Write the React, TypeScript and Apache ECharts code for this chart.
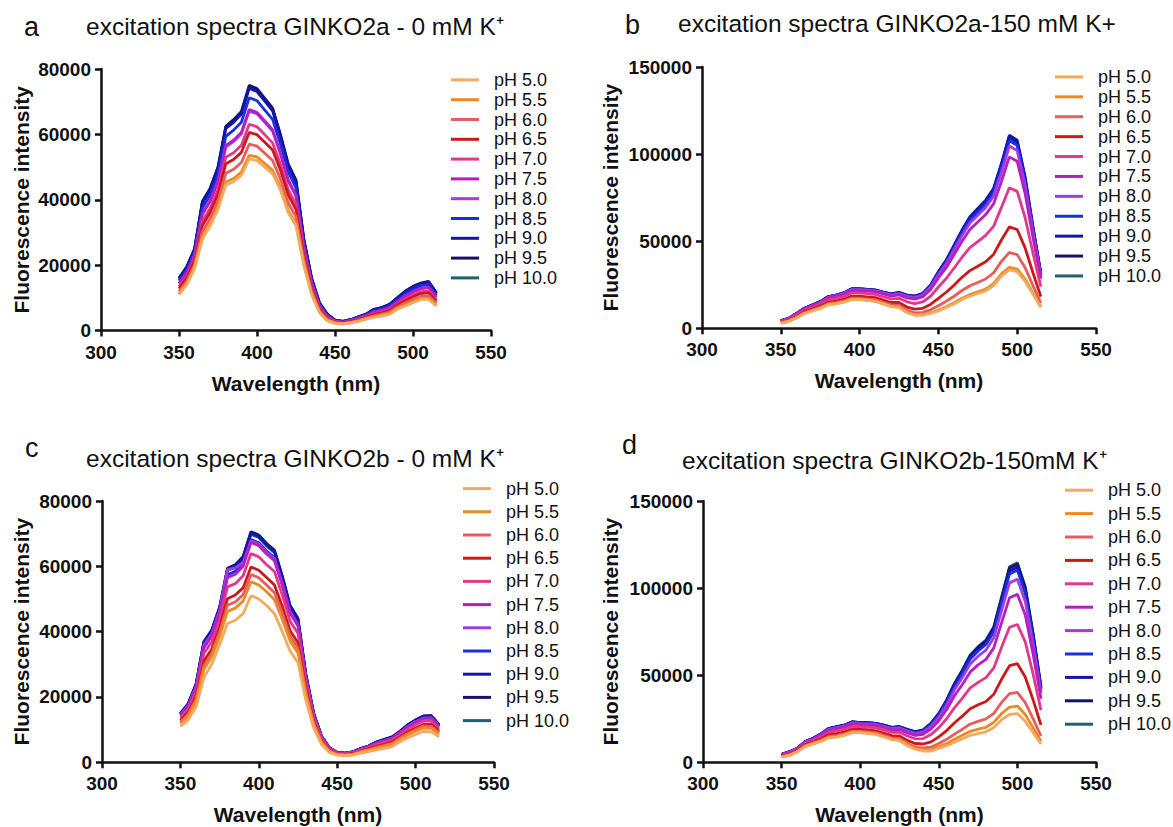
import React, { useEffect, useRef } from "react";
import * as echarts from "echarts";

// Wavelengths (nm) of the excitation scans
const WAVELENGTH_NM = [
  350, 355, 360, 365, 370, 375, 380, 385, 390, 395,
  400, 405, 410, 415, 420, 425, 430, 435, 440, 445,
  450, 455, 460, 465, 470, 475, 480, 485, 490, 495,
  500, 505, 510, 515,
];

const PH_LABELS = ["pH 5.0", "pH 5.5", "pH 6.0", "pH 6.5", "pH 7.0", "pH 7.5", "pH 8.0", "pH 8.5", "pH 9.0", "pH 9.5", "pH 10.0"];
const PH_COLORS = ["#F4AA5E", "#EC8A22", "#E45E5E", "#CE1818", "#E2388C", "#B41EC2", "#A03CE0", "#1A2EE0", "#1414AE", "#12126C", "#1F6070"];

// intensity values are read in thousands of counts
const UNIT = 1000;

// Panel a: GINKO2a, 0 mM K+
const A_PH50 = [11, 14, 19, 28, 32, 37, 44.5, 45.5, 47.5, 52.5, 52, 50, 48, 43, 36, 32, 20, 11, 5.5, 3, 2.2, 2, 2.3, 2.8, 3.5, 4, 4.5, 5, 6.5, 7.5, 8.5, 9.5, 9.5, 7.5];
const A_PH55 = [11.3, 14.3, 19.3, 28.6, 32.6, 37.7, 45.4, 46.5, 48.5, 53.6, 53.1, 51.1, 49, 43.9, 36.8, 32.7, 20.4, 11.3, 5.7, 3.1, 2.3, 2, 2.4, 2.9, 3.6, 4.1, 4.6, 5.2, 6.7, 7.7, 8.8, 9.8, 9.8, 7.7];
const A_PH60 = [12, 15.1, 20.2, 30.3, 34.3, 39.6, 48.1, 49.3, 51.4, 57, 56.4, 54.2, 52, 46.4, 39, 34.8, 21.6, 12, 6.1, 3.4, 2.4, 2.2, 2.5, 3.1, 3.8, 4.5, 5, 5.6, 7.2, 8.4, 9.5, 10.5, 10.6, 8.3];
const A_PH65 = [12.8, 16, 21.2, 32.1, 36.1, 41.7, 51, 52.3, 54.5, 60.6, 59.9, 57.6, 55.2, 49.1, 41.4, 37, 22.9, 12.8, 6.6, 3.7, 2.6, 2.3, 2.7, 3.3, 4, 4.9, 5.4, 6.1, 7.8, 9.1, 10.3, 11.3, 11.5, 8.9];
const A_PH70 = [13.4, 16.6, 21.8, 33.4, 37.4, 43.1, 53, 54.4, 56.7, 63.1, 62.3, 59.9, 57.4, 51, 43.1, 38.6, 23.8, 13.4, 6.9, 3.9, 2.7, 2.4, 2.8, 3.5, 4.2, 5.2, 5.7, 6.4, 8.1, 9.6, 10.9, 11.9, 12.1, 9.4];
const A_PH75 = [14.4, 17.7, 23, 35.7, 39.7, 45.7, 56.6, 58.2, 60.6, 67.6, 66.7, 64.1, 61.4, 54.4, 46.1, 41.4, 25.4, 14.4, 7.5, 4.3, 2.9, 2.5, 3, 3.7, 4.5, 5.7, 6.2, 7, 8.8, 10.5, 11.9, 12.9, 13.2, 10.2];
const A_PH80 = [14.3, 17.6, 22.9, 35.5, 39.5, 45.5, 56.2, 57.8, 60.2, 67.1, 66.3, 63.7, 61, 54.1, 45.8, 41.1, 25.2, 14.3, 7.4, 4.3, 2.9, 2.5, 3, 3.7, 4.5, 5.6, 6.1, 6.9, 8.7, 10.4, 11.8, 12.8, 13.1, 10.1];
const A_PH85 = [15.2, 18.6, 24, 37.5, 41.5, 47.8, 59.4, 61.3, 63.7, 71.2, 70.3, 67.4, 64.6, 57.1, 48.5, 43.6, 26.6, 15.2, 8, 4.7, 3, 2.7, 3.1, 4, 4.7, 6.1, 6.6, 7.5, 9.4, 11.2, 12.7, 13.7, 14.1, 10.8];
const A_PH90 = [15.8, 19.3, 24.8, 39, 43, 49.5, 61.8, 63.7, 66.2, 74.1, 73.1, 70.2, 67.2, 59.3, 50.4, 45.4, 27.7, 15.8, 8.4, 4.9, 3.2, 2.8, 3.3, 4.1, 4.9, 6.4, 6.9, 7.9, 9.9, 11.8, 13.3, 14.3, 14.8, 11.3];
const A_PH95 = [16, 19.5, 25, 39.5, 43.5, 50, 62.5, 64.5, 67, 75, 74, 71, 68, 60, 51, 46, 28, 16, 8.5, 5, 3.2, 2.8, 3.3, 4.2, 5, 6.5, 7, 8, 10, 12, 13.5, 14.5, 15, 11.5];
const A_PH100 = [15.9, 19.4, 24.9, 39.3, 43.3, 49.8, 62.2, 64.1, 66.6, 74.5, 73.6, 70.6, 67.6, 59.7, 50.7, 45.7, 27.8, 15.9, 8.4, 5, 3.2, 2.8, 3.3, 4.2, 5, 6.5, 7, 8, 10, 12, 13.4, 14.4, 14.9, 11.4];

// Panel b: GINKO2a, 150 mM K+
const B_PH50 = [3, 4, 6, 8.5, 10, 11.5, 13.5, 14, 15, 16.5, 16.5, 16, 15.5, 14, 12.5, 12, 9, 7.5, 7.5, 8.5, 10, 12, 14, 16.5, 18.5, 20, 21.5, 24.5, 30, 33.5, 32.5, 27, 19.5, 12];
const B_PH55 = [3, 4, 6.1, 8.6, 10.1, 11.6, 13.6, 14.1, 15.1, 16.6, 16.6, 16.1, 15.6, 14.1, 12.6, 12.2, 9.2, 7.7, 7.8, 8.8, 10.5, 12.5, 14.7, 17.3, 19.4, 21, 22.5, 25.6, 31.3, 35, 34, 28.2, 20.3, 12.4];
const B_PH60 = [3.2, 4.2, 6.3, 8.9, 10.4, 12, 14.1, 14.7, 15.7, 17.3, 17.3, 16.8, 16.3, 14.9, 13.4, 13.1, 10.3, 8.9, 9.1, 10.6, 12.9, 15.5, 18.4, 21.7, 24.4, 26.3, 28.3, 31.8, 38.4, 43.5, 42.3, 34.8, 24.5, 14.5];
const B_PH65 = [3.4, 4.5, 6.8, 9.5, 11.1, 12.7, 15, 15.6, 16.7, 18.5, 18.5, 18, 17.6, 16.2, 14.8, 14.8, 12.2, 11, 11.5, 13.7, 17.2, 20.7, 24.8, 29.3, 33.1, 35.6, 38.2, 42.4, 50.7, 58.2, 56.7, 46.2, 31.9, 18.2];
const B_PH70 = [3.9, 5, 7.6, 10.3, 12.1, 13.8, 16.4, 17.1, 18.3, 20.3, 20.3, 19.9, 19.5, 18.1, 16.9, 17.2, 15.2, 14.2, 15.1, 18.4, 23.7, 28.6, 34.6, 40.8, 46.3, 49.8, 53.3, 58.5, 69.4, 80.7, 78.6, 63.6, 43.2, 23.9];
const B_PH75 = [4.2, 5.4, 8.2, 11, 12.9, 14.7, 17.4, 18.3, 19.5, 21.7, 21.7, 21.4, 21, 19.7, 18.5, 19.2, 17.5, 16.7, 18, 22.2, 28.9, 34.8, 42.4, 50, 56.7, 61, 65.3, 71.4, 84.3, 98.4, 95.9, 77.4, 52.1, 28.4];
const B_PH80 = [4.3, 5.6, 8.4, 11.3, 13.1, 15, 17.8, 18.7, 20, 22.2, 22.2, 21.9, 21.5, 20.3, 19.1, 19.9, 18.3, 17.6, 19, 23.5, 30.7, 37, 45.1, 53.2, 60.4, 64.9, 69.4, 75.8, 89.4, 104.6, 102, 82.2, 55.2, 29.9];
const B_PH85 = [4.3, 5.6, 8.5, 11.4, 13.3, 15.1, 18, 18.9, 20.2, 22.5, 22.5, 22.1, 21.7, 20.5, 19.4, 20.3, 18.7, 18.1, 19.5, 24.1, 31.6, 38.1, 46.4, 54.8, 62.2, 66.8, 71.5, 78.1, 92, 107.7, 105, 84.6, 56.7, 30.7];
const B_PH90 = [4.4, 5.7, 8.6, 11.5, 13.4, 15.3, 18.2, 19.1, 20.4, 22.7, 22.7, 22.4, 22, 20.8, 19.7, 20.6, 19.1, 18.5, 20, 24.8, 32.5, 39.2, 47.8, 56.4, 64, 68.8, 73.6, 80.3, 94.6, 110.8, 108, 87, 58.3, 31.5];
const B_PH95 = [4.4, 5.7, 8.6, 11.5, 13.4, 15.3, 18.1, 19, 20.3, 22.6, 22.6, 22.3, 21.9, 20.7, 19.6, 20.5, 19, 18.4, 19.9, 24.6, 32.3, 38.9, 47.5, 56, 63.5, 68.3, 73.1, 79.7, 93.9, 110, 107.2, 86.4, 57.9, 31.3];
const B_PH100 = [4.4, 5.6, 8.5, 11.4, 13.3, 15.2, 18, 18.9, 20.2, 22.5, 22.5, 22.2, 21.8, 20.6, 19.5, 20.3, 18.8, 18.2, 19.6, 24.3, 31.8, 38.4, 46.8, 55.2, 62.6, 67.3, 72, 78.6, 92.7, 108.5, 105.7, 85.2, 57.1, 30.9];

// Panel c: GINKO2b, 0 mM K+
const C_PH50 = [11, 13, 17, 26, 30, 36, 42.5, 43.5, 45.5, 51, 50, 48, 45.5, 40, 34, 30.5, 19, 10.5, 5.5, 3, 2.2, 2, 2.2, 2.8, 3.3, 3.8, 4.3, 4.8, 6.3, 7.5, 8.5, 9.5, 9.3, 7.8];
const C_PH55 = [11.9, 14.1, 18.5, 28.4, 32.3, 38.5, 46.2, 47.2, 49.4, 55.3, 54.3, 52.2, 49.8, 43.7, 37.1, 33.5, 20.8, 11.5, 6.1, 3.3, 2.4, 2.2, 2.4, 3.1, 3.7, 4.3, 4.9, 5.5, 7, 8.4, 9.5, 10.5, 10.4, 8.6];
const C_PH60 = [12.3, 14.7, 19.3, 29.6, 33.5, 39.8, 48.1, 49.1, 51.3, 57.5, 56.5, 54.3, 51.9, 45.6, 38.6, 35, 21.6, 12, 6.3, 3.5, 2.5, 2.3, 2.5, 3.3, 3.9, 4.6, 5.2, 5.8, 7.4, 8.8, 10, 11.1, 11, 9];
const C_PH65 = [12.8, 15.3, 20.2, 31, 34.7, 41.2, 50.1, 51.2, 53.4, 59.8, 58.8, 56.6, 54.3, 47.7, 40.3, 36.6, 22.6, 12.5, 6.6, 3.7, 2.6, 2.4, 2.7, 3.4, 4.1, 4.9, 5.5, 6.2, 7.7, 9.3, 10.5, 11.6, 11.6, 9.5];
const C_PH70 = [13.6, 16.3, 21.6, 33.3, 36.9, 43.6, 53.7, 54.7, 57.1, 63.9, 62.9, 60.5, 58.4, 51.2, 43.2, 39.4, 24.3, 13.5, 7.2, 4, 2.7, 2.5, 2.9, 3.7, 4.4, 5.4, 6.1, 6.8, 8.4, 10.1, 11.5, 12.6, 12.6, 10.2];
const C_PH75 = [14.3, 17.2, 22.8, 35.1, 38.7, 45.5, 56.5, 57.6, 60, 67.3, 66.3, 63.8, 61.7, 54.1, 45.6, 41.7, 25.6, 14.2, 7.6, 4.2, 2.9, 2.7, 3, 4, 4.7, 5.8, 6.5, 7.3, 9, 10.8, 12.2, 13.4, 13.5, 10.9];
const C_PH80 = [14.5, 17.4, 23.2, 35.8, 39.3, 46.5, 59, 59.5, 61, 67.8, 66.8, 64.3, 62.3, 54.6, 46, 42.1, 25.9, 14.4, 7.7, 4.3, 2.9, 2.7, 3.1, 4, 4.8, 5.9, 6.6, 7.4, 9.1, 11, 12.4, 13.5, 13.6, 11];
const C_PH85 = [14.6, 17.6, 23.4, 36.3, 39.5, 46.3, 57.4, 58.5, 61, 68.2, 67.2, 64.7, 62.7, 55, 46.3, 42.4, 26, 14.5, 7.7, 4.3, 2.9, 2.7, 3.1, 4, 4.8, 5.9, 6.7, 7.4, 9.1, 11, 12.5, 13.6, 13.7, 11.1];
const C_PH90 = [14.9, 17.9, 23.9, 36.8, 40.3, 47.3, 59, 60.2, 62.7, 70.2, 69.2, 66.6, 64.6, 56.7, 47.7, 43.7, 26.8, 14.9, 8, 4.5, 3, 2.8, 3.2, 4.2, 5, 6.2, 6.9, 7.7, 9.4, 11.4, 12.9, 14.1, 14.2, 11.4];
const C_PH95 = [15, 18, 24, 37, 40.5, 47.5, 59.4, 60.5, 63, 70.6, 69.6, 67, 65, 57, 48, 44, 27, 15, 8, 4.5, 3, 2.8, 3.2, 4.2, 5, 6.2, 7, 7.8, 9.5, 11.5, 13, 14.2, 14.3, 11.5];
const C_PH100 = [14.8, 17.8, 23.7, 36.6, 40.1, 47, 58.7, 59.8, 62.3, 69.8, 68.8, 66.2, 64.2, 56.3, 47.4, 43.5, 26.7, 14.8, 7.9, 4.4, 3, 2.8, 3.2, 4.1, 5, 6.1, 6.9, 7.7, 9.4, 11.3, 12.8, 14, 14.1, 11.4];

// Panel d: GINKO2b, 150 mM K+
const D_PH50 = [3, 4, 6, 9, 10.5, 12, 14, 14.5, 15.5, 17, 17, 16.5, 16, 14.5, 13, 12.5, 9.5, 7.5, 6.5, 6.5, 8, 9.5, 11.5, 13.5, 15.5, 16.5, 17.5, 20, 24.5, 27.5, 28, 23.5, 17, 10.5];
const D_PH55 = [3.1, 4.1, 6.1, 9.1, 10.7, 12.2, 14.3, 14.8, 15.8, 17.3, 17.3, 16.8, 16.3, 14.8, 13.4, 12.9, 10, 8, 7.1, 7.3, 9, 10.8, 13.2, 15.5, 17.8, 19, 20.1, 22.9, 28, 31.7, 32.3, 27.4, 19.9, 12.1];
const D_PH60 = [3.2, 4.3, 6.3, 9.4, 11, 12.6, 14.8, 15.3, 16.3, 17.9, 17.8, 17.4, 16.9, 15.5, 14, 13.6, 10.8, 8.9, 8.2, 8.7, 10.8, 13.2, 16.2, 19, 22, 23.5, 24.9, 28.1, 34.4, 39.4, 40.1, 34.3, 25, 15.1];
const D_PH65 = [3.5, 4.7, 6.7, 10, 11.6, 13.4, 15.8, 16.5, 17.4, 19.1, 18.9, 18.6, 18.1, 16.8, 15.3, 15.1, 12.6, 10.8, 10.5, 11.7, 14.6, 18.2, 22.7, 26.5, 30.7, 33, 34.9, 39.1, 47.8, 55.5, 56.6, 49, 35.8, 21.4];
const D_PH70 = [3.9, 5.2, 7.2, 10.7, 12.4, 14.5, 17.2, 18, 19, 20.7, 20.4, 20.2, 19.8, 18.6, 17.2, 17.2, 15.1, 13.5, 13.6, 15.9, 19.9, 25, 31.4, 36.8, 42.7, 45.9, 48.6, 54.2, 66.2, 77.5, 79.1, 69.1, 50.6, 29.9];
const D_PH75 = [4.3, 5.7, 7.6, 11.3, 13.1, 15.4, 18.3, 19.2, 20.2, 22, 21.6, 21.5, 21.1, 20, 18.6, 18.8, 16.9, 15.5, 16.1, 19.1, 23.9, 30.3, 38.2, 44.7, 51.9, 55.9, 59.1, 65.7, 80.3, 94.5, 96.4, 84.6, 62, 36.5];
const D_PH80 = [4.4, 5.9, 7.8, 11.6, 13.4, 15.8, 18.9, 19.8, 20.8, 22.6, 22.2, 22.1, 21.7, 20.6, 19.3, 19.6, 17.9, 16.5, 17.3, 20.7, 25.9, 32.9, 41.6, 48.7, 56.5, 60.9, 64.4, 71.5, 87.3, 103, 105.1, 92.3, 67.7, 39.8];
const D_PH85 = [4.5, 6, 7.9, 11.8, 13.6, 16.1, 19.2, 20.2, 21.1, 23, 22.5, 22.5, 22.1, 21.1, 19.7, 20.1, 18.4, 17.1, 18, 21.6, 27.1, 34.5, 43.6, 51, 59.3, 63.9, 67.6, 75, 91.6, 108.1, 110.3, 96.9, 71.2, 41.8];
const D_PH90 = [4.6, 6, 7.9, 11.8, 13.7, 16.2, 19.3, 20.3, 21.2, 23.1, 22.6, 22.6, 22.2, 21.2, 19.9, 20.3, 18.6, 17.3, 18.2, 21.9, 27.5, 35, 44.3, 51.8, 60.2, 64.9, 68.6, 76.2, 93, 109.8, 112, 98.5, 72.3, 42.4];
const D_PH95 = [4.6, 6.1, 8, 11.9, 13.8, 16.3, 19.4, 20.4, 21.3, 23.2, 22.7, 22.7, 22.3, 21.3, 20, 20.4, 18.8, 17.5, 18.5, 22.2, 27.9, 35.5, 45, 52.6, 61.1, 65.9, 69.7, 77.3, 94.4, 111.5, 113.7, 100, 73.4, 43.1];
const D_PH100 = [4.6, 6.1, 8, 11.9, 13.8, 16.3, 19.5, 20.5, 21.4, 23.3, 22.8, 22.8, 22.4, 21.4, 20.1, 20.5, 18.9, 17.6, 18.6, 22.4, 28.1, 35.8, 45.3, 53, 61.6, 66.4, 70.2, 77.9, 95.1, 112.3, 114.6, 100.8, 74, 43.4];

const PANEL_A = [A_PH50, A_PH55, A_PH60, A_PH65, A_PH70, A_PH75, A_PH80, A_PH85, A_PH90, A_PH95, A_PH100];
const PANEL_B = [B_PH50, B_PH55, B_PH60, B_PH65, B_PH70, B_PH75, B_PH80, B_PH85, B_PH90, B_PH95, B_PH100];
const PANEL_C = [C_PH50, C_PH55, C_PH60, C_PH65, C_PH70, C_PH75, C_PH80, C_PH85, C_PH90, C_PH95, C_PH100];
const PANEL_D = [D_PH50, D_PH55, D_PH60, D_PH65, D_PH70, D_PH75, D_PH80, D_PH85, D_PH90, D_PH95, D_PH100];

const X_MIN = 300;
const X_MAX = 550;
const X_STEP = 50;
const Y_MAX_0K = 80000;
const Y_STEP_0K = 20000;
const Y_MAX_150K = 150000;
const Y_STEP_150K = 50000;

const TITLES = [
  "excitation spectra GINKO2a - 0 mM K\u207A",
  "excitation spectra GINKO2a-150 mM K+",
  "excitation spectra GINKO2b - 0 mM K\u207A",
  "excitation spectra GINKO2b-150mM K\u207A",
];
const LETTERS = ["a", "b", "c", "d"];

const FONT = '"Liberation Sans", Arial, Helvetica, sans-serif';
const INK = "#111111";

// layout (pixels)
const PANELS = [
  { data: PANEL_A, yMax: Y_MAX_0K, yStep: Y_STEP_0K, grid: { left: 101, top: 69, width: 390, height: 261.5 }, yNameGap: 69, legend: { left: 451, top: 70, row: 19.8 }, letter: { x: 24, y: 27 }, title: { x: 86, y: 26 } },
  { data: PANEL_B, yMax: Y_MAX_150K, yStep: Y_STEP_150K, grid: { left: 702, top: 67, width: 394, height: 261.3 }, yNameGap: 81, legend: { left: 1055, top: 67, row: 19.9 }, letter: { x: 625, y: 25 }, title: { x: 678, y: 23 } },
  { data: PANEL_C, yMax: Y_MAX_0K, yStep: Y_STEP_0K, grid: { left: 102, top: 501, width: 392, height: 261.3 }, yNameGap: 70, legend: { left: 463, top: 477, row: 23.2 }, letter: { x: 25, y: 448 }, title: { x: 86, y: 458 } },
  { data: PANEL_D, yMax: Y_MAX_150K, yStep: Y_STEP_150K, grid: { left: 703, top: 501, width: 393, height: 261.3 }, yNameGap: 82, legend: { left: 1065, top: 478.5, row: 23.4 }, letter: { x: 622, y: 445 }, title: { x: 682, y: 460 } },
];

function buildOption() {
  const grid: any[] = [];
  const xAxis: any[] = [];
  const yAxis: any[] = [];
  const legend: any[] = [];
  const series: any[] = [];
  const graphic: any[] = [];

  const axisLine = { show: true, onZero: false, lineStyle: { color: INK, width: 2.5 } };
  const axisTick = { show: true, inside: false, length: 6, lineStyle: { color: INK, width: 2.5 } };
  const labelStyle = { fontSize: 19, fontWeight: "bold", color: INK, fontFamily: FONT, formatter: (v: number) => String(v) };
  const nameStyle = { fontSize: 21, fontWeight: "bold", color: INK, fontFamily: FONT };

  PANELS.forEach((p, i) => {
    grid.push({ ...p.grid, containLabel: false });
    xAxis.push({
      type: "value",
      gridIndex: i,
      min: X_MIN,
      max: X_MAX,
      interval: X_STEP,
      name: "Wavelength (nm)",
      nameLocation: "middle",
      nameGap: 42,
      nameTextStyle: nameStyle,
      axisLine,
      axisTick,
      axisLabel: { ...labelStyle, margin: 12 },
      splitLine: { show: false },
    });
    yAxis.push({
      type: "value",
      gridIndex: i,
      min: 0,
      max: p.yMax,
      interval: p.yStep,
      name: "Fluorescence intensity",
      nameLocation: "middle",
      nameGap: p.yNameGap,
      nameTextStyle: nameStyle,
      axisLine,
      axisTick,
      axisLabel: { ...labelStyle, margin: 10 },
      splitLine: { show: false },
    });
    legend.push({
      data: PH_LABELS,
      orient: "vertical",
      left: p.legend.left,
      top: p.legend.top,
      icon: "rect",
      itemWidth: 28,
      itemHeight: 3,
      itemGap: 0,
      padding: 0,
      selectedMode: false,
      textStyle: { fontSize: 18, color: INK, fontFamily: FONT, lineHeight: p.legend.row, padding: [0, 0, 0, 10] },
    });
    // draw high pH first so that lower pH traces sit on top
    for (let j = PH_LABELS.length - 1; j >= 0; j--) {
      const values = p.data[j];
      series.push({
        type: "line",
        name: PH_LABELS[j],
        xAxisIndex: i,
        yAxisIndex: i,
        symbol: "none",
        showSymbol: false,
        data: WAVELENGTH_NM.map((w, k) => [w, values[k] * UNIT]),
        lineStyle: { color: PH_COLORS[j], width: 2.8 },
        itemStyle: { color: PH_COLORS[j] },
        emphasis: { disabled: true },
      });
    }
    graphic.push({
      type: "text",
      x: p.letter.x,
      y: p.letter.y,
      style: { text: LETTERS[i], font: `27px ${FONT}`, fill: INK, textVerticalAlign: "middle", verticalAlign: "middle" },
    });
    graphic.push({
      type: "text",
      x: p.title.x,
      y: p.title.y,
      style: { text: TITLES[i], font: `24.5px ${FONT}`, fill: INK, textVerticalAlign: "middle", verticalAlign: "middle" },
    });
  });

  return {
    animation: false,
    backgroundColor: "#ffffff",
    textStyle: { fontFamily: FONT },
    grid,
    xAxis,
    yAxis,
    legend,
    series,
    graphic,
  };
}

export default function App() {
  const ref = useRef<HTMLDivElement | null>(null);
  useEffect(() => {
    if (!ref.current) return;
    const chart = echarts.init(ref.current, null, { renderer: "svg" });
    chart.setOption(buildOption() as any);
    return () => {
      chart.dispose();
    };
  }, []);
  return (
    <div
      ref={ref}
      style={{ position: "absolute", left: 0, top: 0, width: 1173, height: 827, background: "#fff" }}
    />
  );
}
